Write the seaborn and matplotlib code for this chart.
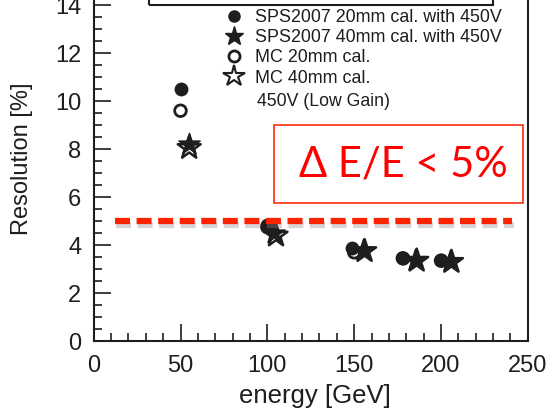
import matplotlib
matplotlib.use("Agg")
import matplotlib.pyplot as plt
import matplotlib.patheffects as pe
from matplotlib.lines import Line2D
from matplotlib.patches import Rectangle
from matplotlib.ticker import MultipleLocator
import pandas as pd
import seaborn as sns

# Beam-test energy resolution vs. beam energy
sps20_energy = [50, 100, 149, 178, 200]
sps20_res = [10.5, 4.85, 3.87, 3.47, 3.37]
sps40_energy = [55, 104, 155, 185, 205]
sps40_res = [8.2, 4.5, 3.8, 3.38, 3.33]
mc20_energy = [50, 100, 150, 178, 200]
mc20_res = [9.6, 4.75, 3.7, 3.45, 3.35]
mc40_energy = [55, 105, 156, 186, 206]
mc40_res = [8.05, 4.4, 3.75, 3.35, 3.3]

series_labels = ["SPS2007 20mm cal. with 450V", "SPS2007 40mm cal. with 450V",
                 "MC 20mm cal.", "MC 40mm cal."]
target_res = 5.0
target_label = "\u0394 E/E < 5%"

sns.set_style("ticks")
plt.rcParams["font.family"] = ["Liberation Sans", "DejaVu Sans"]

ink = "#1e1e1e"
fig = plt.figure(figsize=(5.51, 4.08), dpi=100)
ax = fig.add_axes([0.170, 0.164, 0.788, 0.941])

frames = []
for lab, e, r in [(series_labels[0], sps20_energy, sps20_res),
                  (series_labels[1], sps40_energy, sps40_res),
                  (series_labels[2], mc20_energy, mc20_res),
                  (series_labels[3], mc40_energy, mc40_res)]:
    frames.append(pd.DataFrame({"energy": e, "resolution": r, "series": lab}))
df = pd.concat(frames, ignore_index=True)

styles = {
    series_labels[0]: dict(marker="o", s=80, facecolor=ink, edgecolor=ink, linewidth=1),
    series_labels[1]: dict(marker="*", s=260, facecolor=ink, edgecolor=ink, linewidth=1),
    series_labels[2]: dict(marker="o", s=70, facecolor="none", edgecolor=ink, linewidth=2),
    series_labels[3]: dict(marker="*", s=300, facecolor="none", edgecolor=ink, linewidth=1.8),
}
for lab in series_labels:
    sub = df[df["series"] == lab]
    sns.scatterplot(data=sub, x="energy", y="resolution", ax=ax, legend=False, **styles[lab])

ax.set_xlim(0, 250)
ax.set_ylim(0, 16)
ax.xaxis.set_major_locator(MultipleLocator(50))
ax.xaxis.set_minor_locator(MultipleLocator(10))
ax.yaxis.set_major_locator(MultipleLocator(2))
ax.yaxis.set_minor_locator(MultipleLocator(0.5))
ax.tick_params(which="both", direction="in", color=ink, width=1.2,
               labelsize=17, labelcolor=ink)
ax.tick_params(axis="x", pad=10)
ax.tick_params(axis="y", pad=9)
ax.tick_params(which="major", length=12)
ax.tick_params(which="minor", length=6)
for sp in ax.spines.values():
    sp.set_linewidth(1.5)
    sp.set_color(ink)
ax.set_xlabel("energy [GeV]", fontsize=18.5, color=ink)
ax.set_ylabel("Resolution [%]", fontsize=17, color=ink)
ax.xaxis.set_label_coords(0.5095, -0.113)
ax.yaxis.set_label_coords(-0.14, 0.474)

# header box and legend
ax.add_patch(Rectangle((32, 14.0), 198, 3, fill=False, edgecolor=ink,
                       linewidth=1.5, clip_on=False))
handles = [Line2D([], [], linestyle="none", markersize=st_size, **kw)
           for st_size, kw in [
               (8, dict(marker="o", markerfacecolor=ink, markeredgecolor=ink)),
               (14, dict(marker="*", markerfacecolor=ink, markeredgecolor=ink)),
               (8, dict(marker="o", markerfacecolor="none", markeredgecolor=ink, markeredgewidth=2)),
               (16, dict(marker="*", markerfacecolor="none", markeredgecolor=ink, markeredgewidth=1.5)),
           ]]
leg = ax.legend(handles, series_labels, loc="upper left", bbox_to_anchor=(216 / 551, 1 - 0 / 408),
                bbox_transform=fig.transFigure, frameon=False, fontsize=12.9,
                handlelength=1.0, handletextpad=0.7, labelspacing=0.18, borderpad=0)
for t in leg.get_texts():
    t.set_color(ink)
ax.text(257 / 551, 1 - 102 / 408, "450V (Low Gain)", transform=fig.transFigure,
        fontsize=12.7, color=ink, va="center", ha="left")

# 5% target line and annotation
ax.plot([12, 241], [target_res, target_res], color="#ff2200", linewidth=4.5,
        dashes=(2.4, 1.05), solid_capstyle="butt",
        path_effects=[pe.SimpleLineShadow(offset=(1, -3), shadow_color="#888888", alpha=0.35),
                      pe.Normal()])
ax.add_patch(Rectangle((104, 5.75), 143, 3.25, fill=False, edgecolor="#ff3b1f",
                       linewidth=1.3, clip_on=False))
ax.text(178.5, 7.35, target_label, fontsize=30, color="#ff0000", ha="center", va="center",
        family=["Lato", "DejaVu Sans"])

fig.savefig("out.png", dpi=100)
